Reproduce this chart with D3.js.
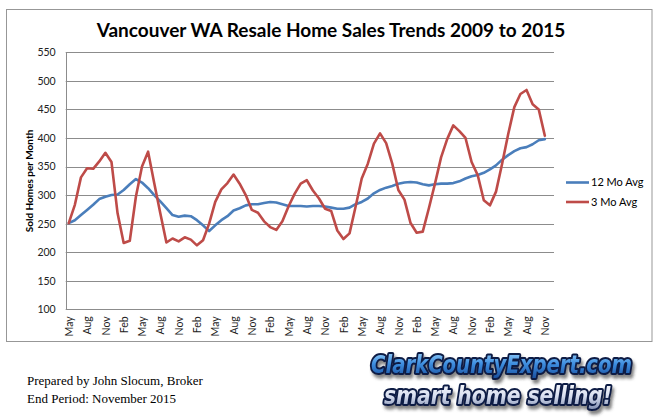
<!DOCTYPE html>
<html>
<head>
<meta charset="utf-8">
<script src="https://cdn.jsdelivr.net/npm/d3@7"></script>
<style>
  body { margin: 0; background: white; }
  svg { display: block; }
</style>
</head>
<body>
<div id="chart"></div>
<script>
"use strict"

// 12 month rolling average, May 2009 .. Nov 2015
const avg12 = [
  251, 256, 265, 274, 283, 293, 297, 300, 301, 309, 319, 328,
  322, 312, 300, 289, 277, 265, 262, 264, 263, 256, 247, 237,
  247, 256, 263, 273, 277, 282, 284, 284, 286, 288, 287, 284,
  281, 281, 281, 280, 281, 281, 280, 278, 276, 276, 278, 284,
  288, 294, 303, 309, 313, 316, 320, 322, 323, 322, 319, 317,
  319, 320, 320, 321, 324, 329, 333, 335, 339, 345, 352, 362,
  370, 377, 382, 384, 389, 396, 398
]

// 3 month rolling average, same months
const avg3 = [
  251, 283, 331, 347, 346, 359, 374, 358, 268, 216, 220, 297,
  350, 376, 321, 268, 217, 224, 219, 226, 222, 212, 221, 250,
  288, 310, 321, 336, 320, 300, 274, 269, 254, 244, 239, 254,
  280, 302, 320, 326, 308, 294, 276, 272, 238, 223, 233, 280,
  329, 355, 390, 408, 391, 355, 309, 292, 251, 234, 236, 277,
  320, 366, 398, 422, 412, 400, 358, 335, 291, 282, 306, 355,
  407, 454, 477, 484, 459, 450, 404
]

// every third month gets a label
const tickLabels = [
  "May", "Aug", "Nov", "Feb", "May", "Aug", "Nov", "Feb", "May",
  "Aug", "Nov", "Feb", "May", "Aug", "Nov", "Feb", "May", "Aug",
  "Nov", "Feb", "May", "Aug", "Nov", "Feb", "May", "Aug", "Nov"
]

const yTicks = [100, 150, 200, 250, 300, 350, 400, 450, 500, 550]

const seriesNames = ["12 Mo Avg", "3 Mo Avg"]
const seriesColors = ["#4a7ebb", "#be4b48"]

const width = 662, height = 420
const font = "Lato, 'Open Sans', sans-serif"

const svg = d3.select("#chart").append("svg")
  .attr("width", width)
  .attr("height", height)
  .attr("viewBox", `0,0,${width},${height}`)

svg.append("rect").attr("width", width).attr("height", height).attr("fill", "white")

// chart frame
svg.append("rect")
  .attr("x", 6.5).attr("y", 9.5)
  .attr("width", 645.5).attr("height", 332)
  .attr("fill", "white")
  .attr("stroke", "#979797")

svg.append("text")
  .text("Vancouver WA Resale Home Sales Trends 2009 to 2015")
  .attr("x", 331).attr("y", 37)
  .attr("text-anchor", "middle")
  .style("font-family", font)
  .style("font-weight", "bold")
  .style("font-size", "19px")
  .attr("fill", "black")

const plot = {left: 65.7, right: 554, top: 52.3, bottom: 309.3}

const x = d3.scaleLinear()
  .domain([-0.5, avg12.length + 0.5])
  .range([plot.left, plot.right])

const y = d3.scaleLinear()
  .domain([100, 550])
  .range([plot.bottom, plot.top])

// gridlines
svg.append("g")
  .selectAll("line")
  .data(yTicks)
  .join("line")
    .attr("x1", plot.left).attr("x2", plot.right)
    .attr("y1", d => Math.round(y(d)) + 0.5)
    .attr("y2", d => Math.round(y(d)) + 0.5)
    .attr("stroke", "#8c8c8c")

svg.append("line")
  .attr("x1", Math.round(plot.left) + 0.5).attr("x2", Math.round(plot.left) + 0.5)
  .attr("y1", plot.top).attr("y2", Math.round(plot.bottom) + 0.5)
  .attr("stroke", "#8c8c8c")

// y axis labels
const yAxis = svg.append("g")
  .attr("transform", `translate(${plot.left} 0)`)
  .call(d3.axisLeft(y).tickValues(yTicks).tickSize(0).tickPadding(10))
yAxis.select(".domain").remove()
yAxis.selectAll("text")
  .style("font-family", font)
  .style("font-size", "10.5px")
  .attr("fill", "#222")

svg.append("text")
  .text("Sold Homes per Month")
  .attr("transform", "translate(32.5 181) rotate(-90)")
  .attr("text-anchor", "middle")
  .style("font-family", font)
  .style("font-weight", "bold")
  .style("font-size", "10px")

// x axis labels, rotated
const tickIdx = tickLabels.map((d, i) => i * 3)
const xAxis = svg.append("g")
  .attr("transform", `translate(0 ${plot.bottom})`)
  .call(d3.axisBottom(x)
    .tickValues(tickIdx)
    .tickFormat((d, i) => tickLabels[i])
    .tickSize(0))
xAxis.select(".domain").remove()
xAxis.selectAll("text")
  .attr("transform", "rotate(-90)")
  .attr("x", -7).attr("y", 0).attr("dy", "0.35em")
  .style("text-anchor", "end")
  .style("font-family", font)
  .style("font-size", "10.5px")
  .attr("fill", "#222")

// the two series
const line = d3.line()
  .x((d, i) => x(i))
  .y(d => y(d))

svg.append("g")
  .selectAll("path")
  .data([avg12, avg3])
  .join("path")
    .attr("d", line)
    .attr("fill", "none")
    .attr("stroke", (d, i) => seriesColors[i])
    .attr("stroke-width", 2.6)
    .attr("stroke-linejoin", "round")
    .attr("stroke-linecap", "round")

// legend
const legend = svg.append("g")
  .selectAll("g")
  .data(seriesNames)
  .join("g")
    .attr("transform", (d, i) => `translate(566 ${182.5 + i * 19.5})`)

legend.append("line")
  .attr("x1", 0).attr("x2", 23)
  .attr("stroke", (d, i) => seriesColors[i])
  .attr("stroke-width", 2.6)

legend.append("text")
  .text(d => d)
  .attr("x", 25).attr("dy", "0.35em")
  .style("font-family", font)
  .style("font-size", "11px")

// footer notes
svg.append("g")
  .selectAll("text")
  .data(["Prepared by John Slocum, Broker", "End Period: November 2015"])
  .join("text")
    .text(d => d)
    .attr("x", 27).attr("y", (d, i) => 385 + i * 18)
    .style("font-family", "'Liberation Serif', 'Times New Roman', serif")
    .style("font-size", "13px")

// logo: one text per line, outline via paint-order, shadow via filter
const defs = svg.append("defs")
const g1 = defs.append("linearGradient").attr("id", "logoBlue").attr("x1", 0).attr("x2", 0).attr("y1", 0).attr("y2", 1)
g1.append("stop").attr("offset", "0%").attr("stop-color", "#a8dcff")
g1.append("stop").attr("offset", "50%").attr("stop-color", "#3d8ee0")
g1.append("stop").attr("offset", "100%").attr("stop-color", "#1a4f9e")
const g2 = defs.append("linearGradient").attr("id", "logoSilver").attr("x1", 0).attr("x2", 0).attr("y1", 0).attr("y2", 1)
g2.append("stop").attr("offset", "0%").attr("stop-color", "#ffffff")
g2.append("stop").attr("offset", "55%").attr("stop-color", "#d8dff0")
g2.append("stop").attr("offset", "100%").attr("stop-color", "#7f8db0")
defs.append("filter").attr("id", "logoShadow")
  .attr("x", "-10%").attr("y", "-30%").attr("width", "120%").attr("height", "160%")
  .append("feDropShadow")
    .attr("dx", 2).attr("dy", 3).attr("stdDeviation", 1.5)
    .attr("flood-color", "#333").attr("flood-opacity", 0.6)

const logo = [
  {text: "ClarkCountyExpert.com", x: 371, y: 373, len: 261, fill: "url(#logoBlue)"},
  {text: "smart home selling!", x: 384, y: 404, len: 228, fill: "url(#logoSilver)"}
]

svg.append("g")
  .selectAll("text")
  .data(logo)
  .join("text")
    .text(d => d.text)
    .attr("transform", d => `translate(${d.x} ${d.y}) scale(1 1.2)`)
    .attr("textLength", d => d.len)
    .attr("lengthAdjust", "spacingAndGlyphs")
    .style("font-family", "'DejaVu Sans Condensed', 'DejaVu Sans', sans-serif")
    .style("font-weight", "bold")
    .style("font-style", "italic")
    .style("font-size", "21px")
    .attr("fill", d => d.fill)
    .attr("stroke", "#0e1c45")
    .attr("stroke-width", 3.5)
    .attr("stroke-linejoin", "round")
    .attr("paint-order", "stroke")
    .attr("filter", "url(#logoShadow)")
</script>
</body>
</html>
